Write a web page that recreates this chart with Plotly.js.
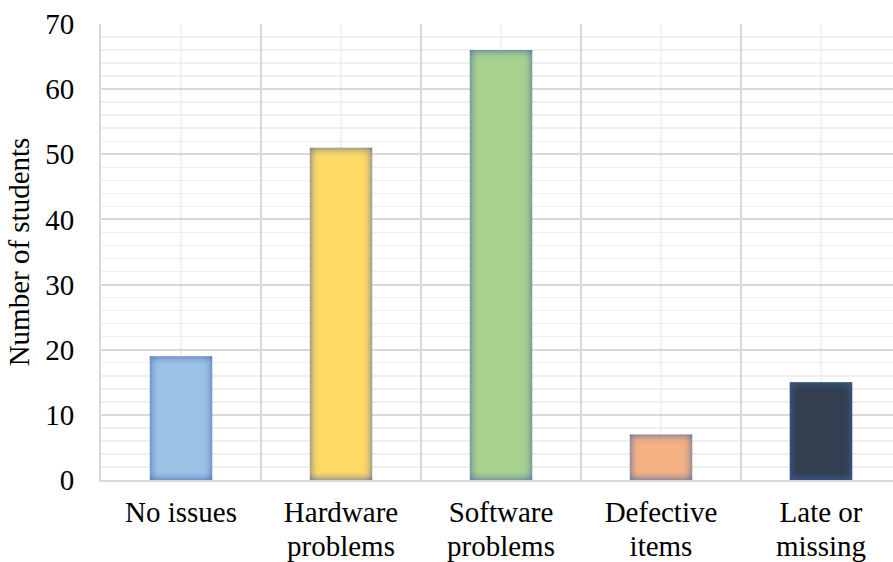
<!DOCTYPE html>
<html>
<head>
<meta charset="utf-8">
<script src="https://cdn.plot.ly/plotly-3.0.1.min.js"></script>
<style>
  html, body { margin: 0; padding: 0; background: #ffffff; }
  #chart { width: 893px; height: 562px; }
</style>
</head>
<body>
<!-- soft inner edge shading for the bars -->
<svg width="0" height="0" style="position:absolute">
  <defs>
    <filter id="edgeGlow" x="-5%" y="-5%" width="110%" height="110%" color-interpolation-filters="sRGB">
      <feGaussianBlur in="SourceAlpha" stdDeviation="4.5" result="blur"/>
      <feFlood flood-color="#3d63ad" flood-opacity="1" result="flood"/>
      <feComposite in="flood" in2="blur" operator="out" result="edge"/>
      <feComposite in="edge" in2="SourceAlpha" operator="in" result="inner"/>
      <feMerge>
        <feMergeNode in="SourceGraphic"/>
        <feMergeNode in="inner"/>
      </feMerge>
    </filter>
  </defs>
</svg>
<div id="chart"></div>
<script>
const categories = ["No issues", "Hardware problems", "Software problems", "Defective items", "Late or missing"];
const tickLabels = ["No issues", "Hardware<br>problems", "Software<br>problems", "Defective<br>items", "Late or<br>missing"];
const students = [19, 51, 66, 7, 15];
const barColors = ["#9dc3e6", "#ffd966", "#a9d18e", "#f4b183", "#333f50"];

const serif = "'Liberation Serif', 'Times New Roman', serif";

const trace = {
  type: "bar",
  x: categories,
  y: students,
  width: 0.39,
  marker: { color: barColors, line: { width: 0 } },
  hoverinfo: "x+y"
};

// light vertical guide through the middle of each category
const centerLines = categories.map(c => ({
  type: "line",
  xref: "x", yref: "paper",
  x0: c, x1: c, y0: 0, y1: 1,
  line: { color: "#eeeeee", width: 1.5 },
  layer: "below"
}));

const layout = {
  width: 893,
  height: 562,
  margin: { l: 101, r: 0, t: 24, b: 82 },
  paper_bgcolor: "#ffffff",
  plot_bgcolor: "#ffffff",
  showlegend: false,
  font: { family: serif, size: 29, color: "#000000" },
  xaxis: {
    type: "category",
    range: [-0.5, 4.45],
    tickmode: "array",
    tickvals: categories,
    ticktext: tickLabels,
    tickson: "boundaries",
    ticks: "",
    showgrid: true,
    gridcolor: "#d9d9d9",
    gridwidth: 2,
    showline: true,
    linecolor: "#d9d9d9",
    linewidth: 2,
    zeroline: false,
    ticklabelstandoff: 5,
    tickfont: { family: serif, size: 29, color: "#000000" },
    fixedrange: true
  },
  yaxis: {
    range: [0, 70],
    tickmode: "linear",
    tick0: 0,
    dtick: 10,
    ticks: "",
    showgrid: true,
    gridcolor: "#d9d9d9",
    gridwidth: 2,
    minor: { dtick: 2, showgrid: true, gridcolor: "#efefef", gridwidth: 1.5, ticks: "" },
    showline: true,
    linecolor: "#d9d9d9",
    linewidth: 2,
    zeroline: false,
    ticklabelstandoff: 19,
    tickfont: { family: serif, size: 29, color: "#000000" },
    title: { text: "Number of students", font: { family: serif, size: 29, color: "#000000" }, standoff: 14 },
    automargin: false,
    fixedrange: true
  },
  shapes: centerLines
};

Plotly.newPlot("chart", [trace], layout, { displayModeBar: false, staticPlot: true }).then(gd => {
  gd.querySelectorAll(".barlayer .point path").forEach(p => {
    p.setAttribute("filter", "url(#edgeGlow)");
  });
  // tighter spacing between the two lines of each category label
  gd.querySelectorAll(".xtick text tspan.line").forEach(t => {
    const dy = t.getAttribute("dy");
    if (dy && parseFloat(dy) > 0) t.setAttribute("dy", (parseFloat(dy) * 0.9) + "em");
  });
  // nudge the y-axis title a little closer to the tick labels
  const yTitle = gd.querySelector(".g-ytitle");
  if (yTitle) {
    const r = yTitle.getBoundingClientRect();
    const dx = 23 - (r.left + r.right) / 2;
    yTitle.setAttribute("transform", "translate(" + dx + ",0)");
  }
});
</script>
</body>
</html>
